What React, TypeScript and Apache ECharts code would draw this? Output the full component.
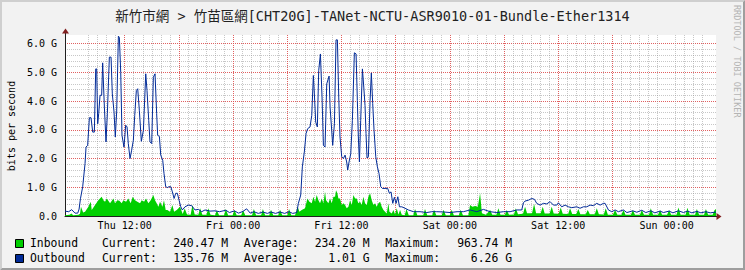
import React, { useEffect, useRef } from 'react';
import * as echarts from 'echarts';

// ---- texts ----
const TITLE = '新竹市網 > 竹苗區網[CHT20G]-TANet-NCTU-ASR9010-01-Bundle-Ether1314';
const Y_NAME = 'bits per second';
const WATERMARK = 'RRDTOOL / TOBI OETIKER';

// ---- axes (x in hours since Thu 00:00, y in Gbit/s) ----
const X_MIN = 5.39;
const X_MAX = 77.47;
const Y_MAX = 6.3;
const xLabelHours = [12, 24, 36, 48, 60, 72];
const xLabelTexts = ['Thu 12:00', 'Fri 00:00', 'Fri 12:00', 'Sat 00:00', 'Sat 12:00', 'Sun 00:00'];
const xMajorHours = [6, 12, 18, 24, 30, 36, 42, 48, 54, 60, 66, 72];
const yTickValues = [0, 1, 2, 3, 4, 5, 6];
const yTickLabels = ['0.0', '1.0 G', '2.0 G', '3.0 G', '4.0 G', '5.0 G', '6.0 G'];

// ---- legend ----
const seriesNames = ['Inbound', 'Outbound'];
const seriesColors = ['#00CF00', '#002A97'];
const legendCurrent = ['240.47 M', '135.76 M'];
const legendAverage = ['234.20 M', '1.01 G'];
const legendMaximum = ['963.74 M', '6.26 G'];

// ---- data: [hour, Gbit/s] ----
const inbound: [number, number][] = [
  [5.39, 0.03], [5.9, 0.04], [6.1, 0.09], [6.3, 0.03], [6.9, 0.04], [7.05, 0.08], [7.16, 0.32], [7.4, 0.12],
  [7.61, 0.15], [7.98, 0.32], [8.24, 0.5], [8.35, 0.21], [8.72, 0.38], [9.08, 0.55], [9.45, 0.67], [9.64, 0.55],
  [9.82, 0.5], [10.01, 0.61], [10.38, 0.44], [10.75, 0.61], [10.93, 0.44], [11.19, 0.55], [11.41, 0.53], [11.67, 0.44],
  [11.85, 0.55], [12.15, 0.5], [12.4, 0.61], [12.66, 0.44], [12.89, 0.67], [13.14, 0.55], [13.4, 0.5], [13.7, 0.44],
  [13.88, 0.55], [14.14, 0.5], [14.36, 0.61], [14.62, 0.44], [14.88, 0.55], [15.17, 0.73], [15.36, 0.55], [15.54, 0.44],
  [15.73, 0.32], [15.91, 0.5], [16.17, 0.32], [16.35, 0.55], [16.54, 0.21], [16.72, 0.21], [17.02, 0.15], [17.28, 0.38],
  [17.47, 0.15], [17.76, 0.21], [18.13, 0.32], [18.42, 0.07], [18.65, 0.26], [18.9, 0.05],
  [19.3, 0.04], [19.5, 0.38], [19.75, 0.05], [20.15, 0.04], [20.35, 0.27], [20.6, 0.04], [21.05, 0.04], [21.25, 0.27],
  [21.5, 0.04], [22.0, 0.03], [22.2, 0.2], [22.45, 0.03], [23.0, 0.03], [23.2, 0.24], [23.45, 0.03], [23.95, 0.03],
  [24.15, 0.21], [24.4, 0.03], [24.9, 0.03], [25.1, 0.2], [25.35, 0.03], [26.1, 0.03], [26.3, 0.24], [26.55, 0.03],
  [27.1, 0.03], [27.3, 0.24], [27.55, 0.03], [28.0, 0.03], [28.2, 0.22], [28.45, 0.03], [29.0, 0.03], [29.2, 0.22],
  [29.45, 0.03], [30.0, 0.03], [30.2, 0.24], [30.45, 0.03], [30.86, 0.03],
  [31.16, 0.32], [31.34, 0.15], [31.6, 0.21], [31.97, 0.27], [32.23, 0.61], [32.45, 0.5], [32.71, 0.44], [32.89, 0.67],
  [33.08, 0.5], [33.26, 0.73], [33.45, 0.55], [33.63, 0.44], [33.82, 0.61], [34.0, 0.44], [34.18, 0.84], [34.3, 0.55],
  [34.55, 0.44], [34.74, 0.61], [34.92, 0.44], [35.11, 0.67], [35.29, 0.67], [35.4, 0.9], [35.55, 0.79], [35.66, 0.61],
  [35.84, 0.61], [36.03, 0.38], [36.21, 0.44], [36.4, 0.38], [36.58, 0.27], [36.77, 0.32], [36.95, 0.55], [37.14, 0.38],
  [37.32, 0.73], [37.51, 0.61], [37.69, 0.61], [37.87, 0.44], [38.06, 0.5], [38.24, 0.38], [38.43, 0.67], [38.61, 0.44],
  [38.8, 0.38], [38.98, 0.67], [39.17, 0.79], [39.35, 0.55], [39.54, 0.38], [39.72, 0.44], [39.91, 0.32], [40.09, 0.44],
  [40.28, 0.5], [40.46, 0.32], [40.65, 0.21], [40.83, 0.15], [41.01, 0.09], [41.2, 0.44], [41.31, 0.15], [41.57, 0.09],
  [41.75, 0.21], [41.94, 0.05], [42.12, 0.27], [42.31, 0.05], [42.49, 0.21], [42.68, 0.04],
  [43.0, 0.03], [43.2, 0.24], [43.45, 0.03], [43.95, 0.03], [44.15, 0.24], [44.4, 0.03], [45.05, 0.03], [45.25, 0.24],
  [45.5, 0.03], [46.05, 0.03], [46.25, 0.22], [46.5, 0.03], [47.1, 0.03], [47.3, 0.22], [47.55, 0.03], [48.0, 0.03],
  [48.2, 0.22], [48.45, 0.03], [49.0, 0.03], [49.2, 0.22], [49.45, 0.03], [50.05, 0.03], [50.24, 0.38], [50.5, 0.32],
  [50.8, 0.35], [51.1, 0.32], [51.35, 0.79], [51.55, 0.1], [52.0, 0.04], [52.46, 0.21], [52.7, 0.04], [53.15, 0.04],
  [53.38, 0.27], [53.6, 0.04], [54.1, 0.04], [54.3, 0.21], [54.55, 0.04], [55.1, 0.05], [55.3, 0.27], [55.55, 0.06],
  [56.1, 0.08], [56.33, 0.32], [56.55, 0.1], [57.1, 0.1], [57.33, 0.42], [57.55, 0.1], [58.05, 0.1], [58.29, 0.32],
  [58.5, 0.09], [59.05, 0.09], [59.28, 0.32], [59.5, 0.09], [60.05, 0.08], [60.28, 0.3], [60.5, 0.08], [61.1, 0.07],
  [61.31, 0.27], [61.55, 0.07], [62.0, 0.07], [62.23, 0.24], [62.45, 0.06], [63.05, 0.06], [63.27, 0.21], [63.5, 0.06],
  [64.05, 0.06], [64.27, 0.27], [64.5, 0.06], [65.05, 0.05], [65.26, 0.27], [65.5, 0.04], [66.05, 0.04], [66.3, 0.21],
  [66.55, 0.04], [67.0, 0.04], [67.22, 0.21], [67.45, 0.04], [68.05, 0.04], [68.26, 0.21], [68.5, 0.04], [69.05, 0.04],
  [69.25, 0.21], [69.5, 0.04], [70.05, 0.04], [70.25, 0.27], [70.5, 0.04], [71.05, 0.04], [71.28, 0.21], [71.5, 0.04],
  [72.05, 0.04], [72.28, 0.21], [72.5, 0.04], [73.1, 0.04], [73.31, 0.3], [73.55, 0.04], [74.1, 0.04], [74.31, 0.29],
  [74.55, 0.04], [75.15, 0.04], [75.35, 0.24], [75.6, 0.04], [76.15, 0.04], [76.35, 0.24], [76.6, 0.04], [77.1, 0.04],
  [77.3, 0.2], [77.47, 0.24],
];

const outbound: [number, number][] = [
  [5.39, 0.17], [5.8, 0.15], [6.13, 0.22], [6.5, 0.1], [6.8, 0.1], [6.95, 0.24], [7.1, 0.6], [7.35, 1.02],
  [7.61, 1.83], [7.72, 2.4], [7.9, 2.46], [8.09, 3.42], [8.27, 3.42], [8.46, 2.92], [8.64, 2.92], [8.79, 5.12],
  [8.9, 5.12], [9.01, 3.21], [9.12, 3.56], [9.27, 4.2], [9.45, 4.2], [9.56, 5.33], [9.75, 3.79], [9.93, 2.58],
  [10.08, 3.56], [10.3, 5.53], [10.49, 5.53], [10.63, 4.25], [10.82, 3.62], [10.96, 2.75], [11.11, 3.62], [11.3, 6.26],
  [11.41, 6.22], [11.56, 5.0], [11.7, 2.81], [11.92, 2.4], [12.11, 3.16], [12.26, 3.1], [12.4, 2.52], [12.59, 2.0],
  [12.77, 2.29], [12.96, 2.64], [13.11, 3.5], [13.29, 4.37], [13.44, 4.43], [13.62, 3.68], [13.84, 2.6], [14.07, 2.98],
  [14.33, 4.95], [14.47, 4.37], [14.66, 3.33], [14.8, 2.58], [14.99, 2.52], [15.17, 4.83], [15.36, 4.95], [15.54, 3.56],
  [15.65, 2.81], [15.84, 2.77], [15.99, 2.12], [16.21, 1.94], [16.35, 1.48], [16.54, 1.02], [16.72, 0.99], [16.91, 1.02],
  [17.1, 1.02], [17.28, 0.84], [17.47, 0.61], [17.65, 0.79], [17.83, 0.79], [18.02, 0.55], [18.21, 0.32], [18.38, 0.21],
  [18.68, 0.32], [19.05, 0.38], [19.42, 0.36], [19.79, 0.21], [20.16, 0.23], [20.53, 0.15], [20.89, 0.21], [21.45, 0.17],
  [22.0, 0.18], [22.5, 0.15], [23.2, 0.2], [23.6, 0.12], [24.15, 0.18], [24.6, 0.1], [25.1, 0.16], [25.5, 0.25],
  [25.9, 0.1], [26.3, 0.15], [26.8, 0.09], [27.3, 0.14], [27.8, 0.09], [28.2, 0.14], [28.7, 0.09], [29.2, 0.14],
  [29.7, 0.09], [30.2, 0.15], [30.6, 0.09], [31.05, 0.12], [31.23, 0.44], [31.49, 0.73], [31.67, 1.71], [31.89, 2.23],
  [32.08, 2.87], [32.26, 3.04], [32.52, 3.1], [32.71, 3.5], [32.89, 4.89], [33.0, 4.25], [33.15, 3.27], [33.33, 3.1],
  [33.48, 5.06], [33.67, 5.64], [33.85, 4.14], [34.0, 2.46], [34.18, 2.4], [34.37, 4.6], [34.63, 4.87], [34.74, 3.79],
  [34.92, 2.98], [35.03, 2.46], [35.22, 3.21], [35.4, 6.13], [35.55, 6.13], [35.7, 4.14], [35.84, 2.75], [36.03, 2.06],
  [36.21, 2.0], [36.4, 2.12], [36.58, 1.88], [36.69, 1.6], [36.84, 1.88], [37.03, 2.17], [37.21, 3.33], [37.43, 5.68],
  [37.62, 5.64], [37.76, 4.02], [37.87, 2.75], [37.99, 1.88], [38.13, 3.33], [38.32, 5.12], [38.47, 4.49], [38.61, 3.85],
  [38.72, 2.87], [38.83, 2.02], [38.98, 2.06], [39.17, 4.02], [39.31, 4.98], [39.46, 3.91], [39.61, 2.98], [39.8, 2.06],
  [39.98, 1.71], [40.16, 1.48], [40.35, 1.02], [40.53, 0.96], [40.83, 0.96], [41.12, 0.96], [41.31, 0.79], [41.49, 0.84],
  [41.68, 0.44], [41.86, 0.65], [42.05, 0.44], [42.24, 0.67], [42.42, 0.32], [42.68, 0.32], [43.04, 0.27], [43.41, 0.21],
  [43.97, 0.15], [44.7, 0.15], [45.44, 0.12], [46.0, 0.15], [46.55, 0.15], [47.3, 0.14], [48.03, 0.12], [48.8, 0.15],
  [49.5, 0.15], [50.24, 0.21], [50.98, 0.15], [51.72, 0.23], [52.46, 0.15], [53.2, 0.12], [53.93, 0.15], [54.67, 0.15],
  [55.41, 0.21], [55.96, 0.21], [56.15, 0.46], [56.33, 0.52], [56.7, 0.55], [57.07, 0.61], [57.37, 0.58], [57.62, 0.44],
  [57.99, 0.38], [58.36, 0.44], [58.73, 0.42], [59.1, 0.5], [59.47, 0.38], [59.84, 0.38], [60.02, 0.46], [60.39, 0.32],
  [60.76, 0.38], [61.13, 0.32], [61.5, 0.29], [62.05, 0.32], [62.42, 0.27], [62.79, 0.32], [63.16, 0.32], [63.53, 0.38],
  [63.9, 0.36], [64.27, 0.44], [64.64, 0.38], [65.01, 0.44], [65.19, 0.44], [65.56, 0.21], [65.93, 0.15], [66.3, 0.21],
  [66.66, 0.15], [67.22, 0.21], [67.6, 0.12], [68.26, 0.18], [68.7, 0.13], [69.25, 0.2], [69.7, 0.12], [70.25, 0.18],
  [70.7, 0.11], [71.28, 0.17], [71.65, 0.12], [72.28, 0.17], [72.7, 0.11], [73.31, 0.18], [73.87, 0.12], [74.31, 0.17],
  [74.8, 0.11], [75.35, 0.16], [75.8, 0.11], [76.35, 0.15], [76.83, 0.11], [77.47, 0.136],
];

const MONO = "'DejaVu Sans Mono', monospace";
const GRID_MINOR = 'rgba(143,143,143,0.5)';
const GRID_MAJOR = 'rgba(222,79,79,0.9)';

function buildOption() {
  const xMinorHours: number[] = [];
  for (let h = 6; h <= 77; h++) if (h % 6 !== 0) xMinorHours.push(h);
  const yMinorValues: number[] = [];
  for (let k = 1; k <= 31; k++) if (k % 5 !== 0) yMinorValues.push(Math.round(k * 2) / 10);

  const rowY = [242.8, 258];
  const legendGraphics: any[] = [];
  seriesNames.forEach((name, i) => {
    const y = rowY[i];
    legendGraphics.push({
      type: 'rect', shape: { x: 15.5, y: Math.round(y) - 3.5, width: 8, height: 8 },
      style: { fill: seriesColors[i], stroke: '#000', lineWidth: 1 },
    });
    const t = (x: number, text: string, align: string) => ({
      type: 'text', x, y,
      style: { text, fontFamily: MONO, fontSize: 11.4, fill: '#000', align, verticalAlign: 'middle' },
    });
    legendGraphics.push(t(30, name, 'left'));
    legendGraphics.push(t(102, 'Current:', 'left'));
    legendGraphics.push(t(228, legendCurrent[i], 'right'));
    legendGraphics.push(t(243.8, 'Average:', 'left'));
    legendGraphics.push(t(369.5, legendAverage[i], 'right'));
    legendGraphics.push(t(385.2, 'Maximum:', 'left'));
    legendGraphics.push(t(512, legendMaximum[i], 'right'));
  });

  return {
    animation: false,
    backgroundColor: '#F2F2F2',
    title: {
      text: TITLE, left: 'center', top: 9, padding: 0,
      textStyle: {
        fontFamily: "'DejaVu Sans Mono', 'Noto Sans CJK TC', monospace",
        fontSize: 13.5, fontWeight: 'normal', color: '#222', lineHeight: 14,
      },
    },
    grid: { left: 65, top: 35, width: 651, height: 181, show: true, backgroundColor: '#FFFFFF', borderWidth: 0, containLabel: false },
    xAxis: [
      {
        type: 'value', position: 'bottom', offset: 0, min: X_MIN, max: X_MAX,
        axisLine: { show: false }, axisLabel: { show: false },
        axisTick: { show: false, customValues: xMinorHours },
        splitLine: { show: true, showMinLine: false, showMaxLine: false, lineStyle: { color: GRID_MINOR, width: 1, type: [1, 1] } },
      },
      {
        type: 'value', position: 'bottom', offset: 0, min: X_MIN, max: X_MAX,
        axisLine: { show: true, onZero: false, lineStyle: { color: '#1F1F1F', width: 1 } },
        axisTick: { show: false, customValues: xMajorHours },
        axisLabel: {
          show: true, customValues: xLabelHours, margin: 4,
          formatter: (v: number) => { const i = xLabelHours.indexOf(Math.round(v)); return i >= 0 ? xLabelTexts[i] : ''; },
          fontFamily: MONO, fontSize: 10, color: '#000',
        },
        splitLine: { show: true, showMinLine: false, showMaxLine: false, lineStyle: { color: GRID_MAJOR, width: 1, type: [1, 1] } },
      },
    ],
    yAxis: [
      {
        type: 'value', position: 'left', offset: 0, min: 0, max: Y_MAX,
        axisLine: { show: false }, axisLabel: { show: false },
        axisTick: { show: false, customValues: yMinorValues },
        splitLine: { show: true, showMinLine: false, showMaxLine: false, lineStyle: { color: GRID_MINOR, width: 1, type: [1, 1] } },
      },
      {
        type: 'value', position: 'left', offset: 0, min: 0, max: Y_MAX, interval: 1,
        axisLine: { show: true, onZero: false, lineStyle: { color: '#1F1F1F', width: 1 } },
        axisTick: { show: false },
        axisLabel: {
          margin: 8, showMaxLabel: false, fontFamily: MONO, fontSize: 10, color: '#000',
          formatter: (v: number) => { const i = yTickValues.indexOf(Math.round(v * 10) / 10); return i >= 0 ? yTickLabels[i] : ''; },
        },
        splitLine: { show: true, showMinLine: false, showMaxLine: false, lineStyle: { color: GRID_MAJOR, width: 1, type: [1, 1] } },
      },
    ],
    series: [
      {
        name: seriesNames[0], type: 'line', xAxisIndex: 1, yAxisIndex: 1, data: inbound,
        symbol: 'none', showSymbol: false, z: 2,
        lineStyle: { width: 0, color: seriesColors[0] }, itemStyle: { color: seriesColors[0] },
        areaStyle: { color: seriesColors[0], opacity: 1 },
      },
      {
        name: seriesNames[1], type: 'line', xAxisIndex: 1, yAxisIndex: 1, data: outbound,
        symbol: 'none', showSymbol: false, z: 3,
        lineStyle: { width: 1, color: seriesColors[1] }, itemStyle: { color: seriesColors[1] },
      },
    ],
    graphic: [
      { type: 'polygon', shape: { points: [[0, 270], [2, 268], [2, 2], [743, 2], [745, 0], [0, 0]] }, style: { fill: '#CFCFCF' } },
      { type: 'polygon', shape: { points: [[2, 268], [743, 268], [743, 2], [745, 0], [745, 270], [0, 270]] }, style: { fill: '#9E9E9E' } },
      { type: 'line', shape: { x1: 65.5, y1: 35, x2: 65.5, y2: 31 }, style: { stroke: '#1F1F1F', lineWidth: 1 } },
      { type: 'line', shape: { x1: 716, y1: 216.5, x2: 719, y2: 216.5 }, style: { stroke: '#1F1F1F', lineWidth: 1 } },
      { type: 'polygon', shape: { points: [[62, 33.5], [69, 33.5], [65.5, 28.5]] }, style: { fill: '#801F1F' } },
      { type: 'polygon', shape: { points: [[716.5, 213], [716.5, 220], [721.5, 216.5]] }, style: { fill: '#801F1F' } },
      {
        type: 'text', x: 11, y: 126, rotation: Math.PI / 2,
        style: { text: Y_NAME, fontFamily: MONO, fontSize: 10, fill: '#000', align: 'center', verticalAlign: 'middle' },
      },
      {
        type: 'text', x: 741, y: 5, rotation: -Math.PI / 2,
        style: { text: WATERMARK, fontFamily: MONO, fontSize: 8.5, fill: '#B4B4B4', align: 'left', verticalAlign: 'top' },
      },
      ...legendGraphics,
    ],
  };
}

export default function App() {
  const ref = useRef<HTMLDivElement>(null);
  useEffect(() => {
    if (!ref.current) return;
    const chart = echarts.init(ref.current, null, { renderer: 'svg' });
    chart.setOption(buildOption() as any);
    return () => chart.dispose();
  }, []);
  return <div ref={ref} style={{ position: 'absolute', left: 0, top: 0, width: 745, height: 270 }} />;
}
